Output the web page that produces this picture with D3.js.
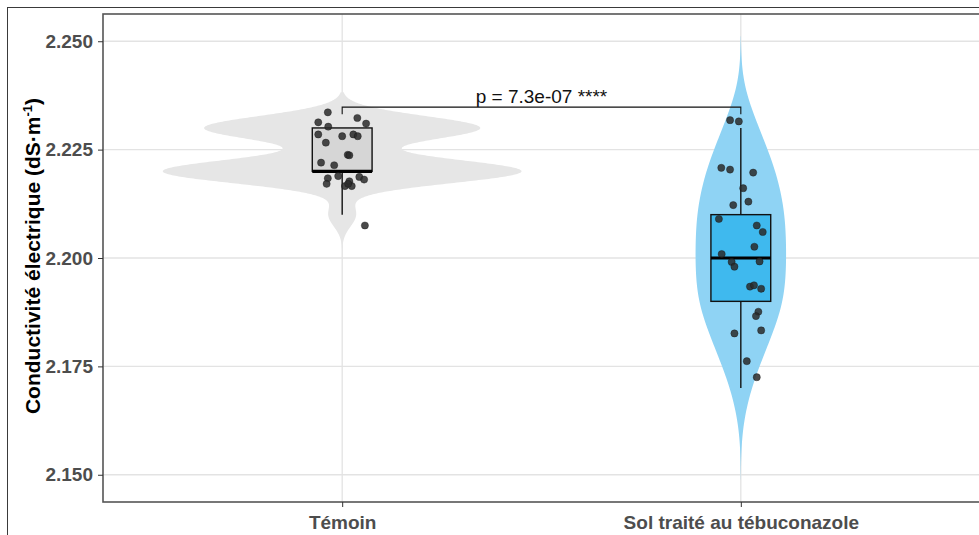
<!DOCTYPE html>
<html>
<head>
<meta charset="utf-8">
<script src="https://cdn.jsdelivr.net/npm/d3@7"></script>
<style>
  body { margin: 0; background: #ffffff; }
  text { font-family: "Liberation Sans", Arial, sans-serif; }
</style>
</head>
<body>
<svg id="chart" width="979" height="535"></svg>
<script>
// Groups on the x axis
const categories = ["Témoin", "Sol traité au tébuconazole"];

// Measured electrical conductivity per sample (dS·m⁻¹)
const temoinValues = [2.23, 2.23, 2.23, 2.23, 2.23, 2.23, 2.23, 2.23, 2.23, 2.23,
                      2.22, 2.22, 2.22, 2.22, 2.22, 2.22, 2.22, 2.22, 2.22, 2.22,
                      2.22, 2.22, 2.22, 2.21];
const tebuValues = [2.23, 2.23, 2.22, 2.22, 2.22, 2.22, 2.21, 2.21, 2.21, 2.21,
                    2.21, 2.20, 2.20, 2.20, 2.20, 2.20, 2.19, 2.19, 2.19, 2.19,
                    2.19, 2.18, 2.18, 2.18, 2.17];

// Jitter applied to the sample points (x in category widths, y in dS·m⁻¹)
const temoinJitterX = [-0.036, 0.038, -0.060, -0.035, 0.060, -0.060, 0.000, 0.028, 0.039, -0.041,
                       0.014, 0.018, -0.053, -0.020, -0.010, -0.036, -0.039, 0.043, 0.055, 0.007,
                       0.018, 0.024, 0.015, 0.057];
const temoinJitterY = [0.0036, 0.0023, 0.0013, 0.0003, 0.0010, -0.0015, -0.0019, -0.0015, -0.0019, -0.0034,
                       0.0038, 0.0037, 0.0020, 0.0014, -0.0011, -0.0016, -0.0029, -0.0013, -0.0019, -0.0034,
                       -0.0023, -0.0034, -0.0029, -0.0025];
const tebuJitterX = [-0.027, -0.005, -0.049, -0.027, 0.031, 0.006, -0.019, 0.019, -0.055, 0.040,
                     0.055, 0.034, -0.048, -0.023, -0.016, 0.047, 0.023, 0.033, 0.051, 0.044,
                     0.038, -0.016, 0.051, 0.015, 0.040];
const tebuJitterY = [0.0018, 0.0015, 0.0008, 0.0004, -0.0003, -0.0039, 0.0022, 0.0030, -0.0010, -0.0025,
                     -0.0040, 0.0026, 0.0009, -0.0009, -0.0020, -0.0008, 0.0034, 0.0037, 0.0029, -0.0024,
                     -0.0034, 0.0026, 0.0033, -0.0038, 0.0025];

const yTicks = [2.150, 2.175, 2.200, 2.225, 2.250];
const yTitle = "Conductivité électrique (dS·m";
const yTitleSup = "-1";
const pLabel = "p = 7.3e-07 ****";
const bracketValue = 2.2348;

const violinFills = ["#e6e6e6", "#8fd3f4"];
const boxFills = ["#d6d6d6", "#3fb9ee"];

const groups = [
  { name: categories[0], values: temoinValues, jx: temoinJitterX, jy: temoinJitterY },
  { name: categories[1], values: tebuValues, jx: tebuJitterX, jy: tebuJitterY }
];

// ---- statistics (R-style boxplot + gaussian KDE with nrd0 bandwidth) ----
function nrd0(v) {
  const s = v.slice().sort(d3.ascending);
  const sd = d3.deviation(s);
  const iqr = d3.quantileSorted(s, 0.75) - d3.quantileSorted(s, 0.25);
  let lo = Math.min(sd, iqr / 1.34);
  if (!(lo > 0)) lo = sd || Math.abs(s[0]) || 1;
  return 0.9 * lo * Math.pow(s.length, -0.2);
}
groups.forEach(g => {
  const s = g.values.slice().sort(d3.ascending);
  const q1 = d3.quantileSorted(s, 0.25), med = d3.quantileSorted(s, 0.5), q3 = d3.quantileSorted(s, 0.75);
  const iqr = q3 - q1;
  const inside = s.filter(v => v >= q1 - 1.5 * iqr && v <= q3 + 1.5 * iqr);
  g.box = { q1, med, q3, lo: d3.min(inside), hi: d3.max(inside) };
  const bw = nrd0(s);
  const from = s[0] - 3 * bw, to = s[s.length - 1] + 3 * bw;
  const n = 512, k = 1 / (Math.sqrt(2 * Math.PI) * bw * s.length);
  g.density = d3.range(n).map(i => {
    const y = from + (to - from) * i / (n - 1);
    let d = 0;
    for (const v of s) { const u = (y - v) / bw; d += Math.exp(-0.5 * u * u); }
    return { y, d: d * k };
  });
  g.extent = [from, to];
});
const maxDensity = d3.max(groups, g => d3.max(g.density, p => p.d));

// ---- layout ----
const svg = d3.select("#chart");
const panel = { left: 103, top: 14, right: 980, bottom: 502 };

const yMin = d3.min(groups, g => g.extent[0]);
const yMax = d3.max(groups, g => g.extent[1]);
const pad = (yMax - yMin) * 0.05;
const y = d3.scaleLinear().domain([yMin - pad, yMax + pad]).range([panel.bottom, panel.top]);
const x = d3.scalePoint().domain(categories).range([panel.left, panel.right]).padding(0.6);
const step = x.step();

// outer frame of the figure
svg.append("rect").attr("x", 7.5).attr("y", 7.5).attr("width", 1000).attr("height", 1000)
  .attr("fill", "none").attr("stroke", "#3a3a3a").attr("stroke-width", 1);

// grid
const grid = svg.append("g");
grid.selectAll("line.h").data(yTicks).join("line").attr("class", "h")
  .attr("x1", panel.left).attr("x2", panel.right)
  .attr("y1", d => y(d)).attr("y2", d => y(d))
  .attr("stroke", "#e3e3e3").attr("stroke-width", 1.3);
grid.selectAll("line.v").data(categories).join("line").attr("class", "v")
  .attr("y1", panel.top).attr("y2", panel.bottom)
  .attr("x1", d => x(d)).attr("x2", d => x(d))
  .attr("stroke", "#e3e3e3").attr("stroke-width", 1.3);

// violins
const plot = svg.append("g");
groups.forEach((g, i) => {
  const cx = x(g.name);
  const area = d3.area()
    .y(p => y(p.y))
    .x0(p => cx - p.d / maxDensity * 0.45 * step)
    .x1(p => cx + p.d / maxDensity * 0.45 * step);
  plot.append("path").datum(g.density).attr("d", area).attr("fill", violinFills[i]);
});

// box plots
const boxHalf = 0.075 * step;
groups.forEach((g, i) => {
  const cx = x(g.name), b = g.box;
  const gg = plot.append("g");
  gg.append("line").attr("x1", cx).attr("x2", cx).attr("y1", y(b.q3)).attr("y2", y(b.hi))
    .attr("stroke", "#111").attr("stroke-width", 1.4);
  gg.append("line").attr("x1", cx).attr("x2", cx).attr("y1", y(b.q1)).attr("y2", y(b.lo))
    .attr("stroke", "#111").attr("stroke-width", 1.4);
  gg.append("rect").attr("x", cx - boxHalf).attr("width", 2 * boxHalf)
    .attr("y", y(b.q3)).attr("height", y(b.q1) - y(b.q3))
    .attr("fill", boxFills[i]).attr("stroke", "#111").attr("stroke-width", 1.4);
  gg.append("line").attr("x1", cx - boxHalf).attr("x2", cx + boxHalf)
    .attr("y1", y(b.med)).attr("y2", y(b.med))
    .attr("stroke", "#000").attr("stroke-width", 3.2);
});

// jittered sample points
groups.forEach(g => {
  const pts = g.values.map((v, j) => ({ x: x(g.name) + g.jx[j] * step, y: y(v + g.jy[j]) }));
  plot.append("g").selectAll("circle").data(pts).join("circle")
    .attr("cx", d => d.x).attr("cy", d => d.y).attr("r", 3.6)
    .attr("fill", "#2a2a2a").attr("fill-opacity", 0.85)
    .attr("stroke", "#111").attr("stroke-opacity", 0.6).attr("stroke-width", 0.6);
});

// significance bracket
const by = y(bracketValue), tip = 7;
svg.append("path")
  .attr("d", `M${x(categories[0])},${by + tip}V${by}H${x(categories[1])}V${by + tip}`)
  .attr("fill", "none").attr("stroke", "#111").attr("stroke-width", 1.1);
svg.append("text").attr("x", (x(categories[0]) + x(categories[1])) / 2).attr("y", by - 4)
  .attr("text-anchor", "middle").attr("font-size", 19).attr("fill", "#111").text(pLabel);

// panel border
svg.append("rect").attr("x", panel.left).attr("y", panel.top)
  .attr("width", panel.right - panel.left).attr("height", panel.bottom - panel.top)
  .attr("fill", "none").attr("stroke", "#555").attr("stroke-width", 1.6);

// y axis
const yAxis = svg.append("g").attr("transform", `translate(${panel.left},0)`)
  .call(d3.axisLeft(y).tickValues(yTicks).tickFormat(d3.format(".3f")).tickSizeOuter(0).tickSize(5).tickPadding(5));
yAxis.select(".domain").remove();
yAxis.selectAll("line").attr("stroke", "#333");
yAxis.selectAll("text").attr("font-size", 19).attr("font-weight", "bold").attr("fill", "#4d4d4d")
  .attr("font-family", "Liberation Sans, Arial, sans-serif");

// x axis
const xAxis = svg.append("g").attr("transform", `translate(0,${panel.bottom})`)
  .call(d3.axisBottom(x).tickSizeOuter(0).tickSize(5).tickPadding(9));
xAxis.select(".domain").remove();
xAxis.selectAll("line").attr("stroke", "#333");
xAxis.selectAll("text").attr("font-size", 19).attr("font-weight", "bold").attr("fill", "#4d4d4d")
  .attr("font-family", "Liberation Sans, Arial, sans-serif");

// y axis title
const yt = svg.append("text")
  .attr("transform", `translate(40,${(panel.top + panel.bottom) / 2 - 2}) rotate(-90)`)
  .attr("text-anchor", "middle").attr("font-size", 21).attr("font-weight", "bold").attr("fill", "#000");
yt.append("tspan").text(yTitle);
yt.append("tspan").attr("font-size", 13).attr("dy", -8).text(yTitleSup);
yt.append("tspan").attr("dy", 8).text(")");
</script>
</body>
</html>
